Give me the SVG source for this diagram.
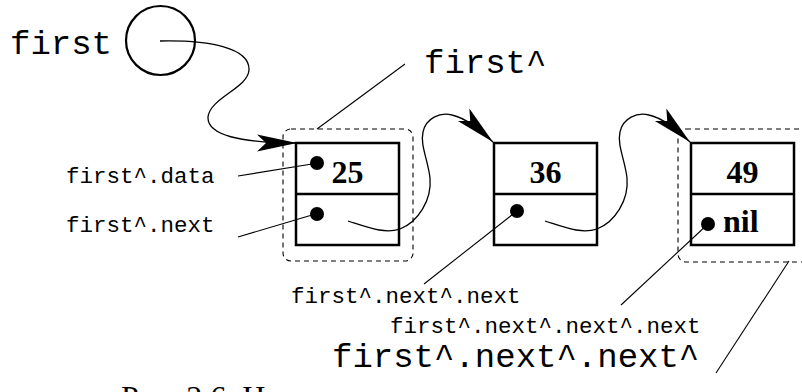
<svg xmlns="http://www.w3.org/2000/svg" width="802" height="392" viewBox="0 0 802 392">
<style>
.mono{font-family:"Liberation Mono","DejaVu Sans Mono",monospace;fill:#000}
.big{font-size:34px}
.small{font-size:22.5px}
.val{font-family:"Liberation Serif","DejaVu Serif",serif;font-weight:bold;font-size:32px;fill:#000}
.box{fill:#fff;stroke:#000;stroke-width:2.5}
.grp{fill:none;stroke:#000;stroke-width:1.1;stroke-dasharray:5 4}
.lead{fill:none;stroke:#000;stroke-width:1.1}
.link{fill:none;stroke:#000;stroke-width:1.3}
.dot{fill:#000}
.cap{font-family:"Liberation Serif","DejaVu Serif",serif;font-size:32px;fill:#000}
</style>
<defs>
<marker id="ah" markerUnits="userSpaceOnUse" viewBox="-42 -10 44 20" refX="0" refY="0" markerWidth="44" markerHeight="20" orient="auto">
<path d="M0,0 L-40,-8.5 L-31,0 L-40,8.5 Z" fill="#000"/>
</marker>
</defs>
<rect width="802" height="392" fill="#fff"/>

<g id="first-var">
<text class="mono big" x="10" y="54">first</text>
<circle cx="160.5" cy="40.5" r="34.5" fill="none" stroke="#000" stroke-width="2.2"/>
</g>

<g id="node1">
<rect class="grp" x="283" y="129" width="130" height="132" rx="8"/>
<rect class="box" x="296" y="143" width="103" height="102"/>
<line x1="296" y1="194" x2="399" y2="194" stroke="#000" stroke-width="2.5"/>
<text class="val" x="347.5" y="183" text-anchor="middle">25</text>
<circle class="dot" cx="317" cy="163" r="7"/>
<circle class="dot" cx="317" cy="214" r="7"/>
</g>

<g id="node2">
<rect class="box" x="494" y="143" width="103" height="102"/>
<line x1="494" y1="194" x2="597" y2="194" stroke="#000" stroke-width="2.5"/>
<text class="val" x="545.5" y="183" text-anchor="middle">36</text>
<circle class="dot" cx="517" cy="211" r="7"/>
</g>

<g id="node3">
<rect class="grp" x="678" y="129" width="140" height="133" rx="8"/>
<rect class="box" x="691" y="143" width="103" height="102"/>
<line x1="691" y1="194" x2="794" y2="194" stroke="#000" stroke-width="2.5"/>
<text class="val" x="742.5" y="183" text-anchor="middle">49</text>
<circle class="dot" cx="708" cy="224" r="7"/>
<text class="val" x="723" y="232">nil</text>
</g>

<g id="connectors">
<path class="link" d="M160,41 C210,40 250,48 249,70 C248,88 210,98 208,117 C207,135 240,143 297,143" marker-end="url(#ah)"/>
<path class="link" d="M348,221 C370,228 385,234 400,229 C418,222 432,200 430,178 C428,160 420,145 423,132 C426,118 440,112 452,115 C466,118 480,130 493,142" marker-end="url(#ah)"/>
<path class="link" d="M545,221 C567,228 582,234 597,229 C615,222 629,200 627,178 C625,160 617,145 620,132 C623,118 637,112 649,115 C663,118 677,130 690,142" marker-end="url(#ah)"/>
</g>

<g id="labels">
<text class="mono big" x="424" y="73">first^</text>
<line class="lead" x1="405" y1="64" x2="317" y2="129"/>
<text class="mono small" x="66" y="183">first^.data</text>
<line class="lead" x1="238" y1="176" x2="312" y2="164"/>
<text class="mono small" x="66" y="232">first^.next</text>
<line class="lead" x1="238" y1="237" x2="312" y2="215"/>
<text class="mono small" x="291" y="303">first^.next^.next</text>
<line class="lead" x1="424" y1="284" x2="517" y2="211"/>
<text class="mono small" x="390" y="333">first^.next^.next^.next</text>
<line class="lead" x1="621" y1="305" x2="708" y2="224"/>
<text class="mono big" x="332" y="367">first^.next^.next^</text>
<line class="lead" x1="789" y1="261" x2="716" y2="373"/>
</g>

<text class="cap" x="121" y="408">Рис. 2.6. Н</text>
</svg>
